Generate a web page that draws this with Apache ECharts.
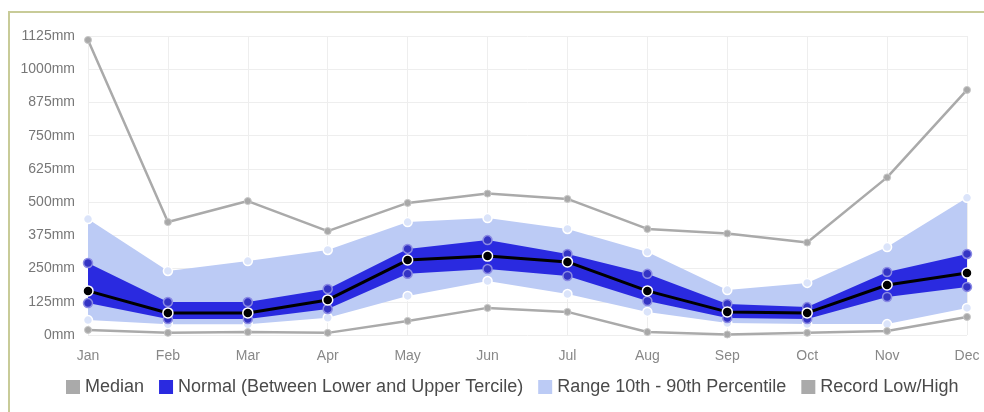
<!DOCTYPE html>
<html>
<head>
<meta charset="utf-8">
<script src="https://cdn.jsdelivr.net/npm/echarts@6/dist/echarts.min.js"></script>
<style>
html,body{margin:0;padding:0;background:#fff;}
#c{width:984px;height:412px;}
</style>
</head>
<body>
<div id="c"></div>
<script>
var months = ['Jan','Feb','Mar','Apr','May','Jun','Jul','Aug','Sep','Oct','Nov','Dec'];
var recordHigh = [1110, 425, 504, 391, 497, 532, 512, 399, 382, 348, 593, 922];
var recordLow  = [19, 8, 11, 8, 53, 102, 87, 11, 2, 8, 15, 68];
var p90        = [436, 241, 278, 320, 425, 440, 399, 312, 169, 196, 331, 516];
var p10        = [56, 40, 40, 65, 147, 203, 154, 87, 45, 41, 41, 102];
var upperTercile = [271, 124, 124, 173, 324, 357, 305, 230, 117, 105, 237, 305];
var lowerTercile = [120, 60, 60, 98, 230, 248, 222, 128, 64, 60, 143, 181];
var median     = [166, 83, 83, 132, 282, 297, 275, 166, 87, 83, 188, 233];
var yTicks = {min: 0, max: 1125, interval: 125};

var rangeDiff = p90.map(function(v, i){ return v - p10[i]; });
var normalDiff = upperTercile.map(function(v, i){ return v - lowerTercile[i]; });

var lightPt = {color:'#dbe4fa', borderColor:'#ffffff', borderWidth:1.5};
var darkPt = {color:'#3434c4', borderColor:'#8a8ae4', borderWidth:1.5};

var chart = echarts.init(document.getElementById('c'));
chart.setOption({
  animation: false,
  backgroundColor: '#fff',
  graphic: [{
    type: 'polyline',
    shape: {points: [[9, 412], [9, 12], [984, 12]]},
    style: {stroke: '#c8cb98', lineWidth: 2, fill: null},
    silent: true
  }],
  grid: {left: 88, right: 17, top: 36, bottom: 77},
  legend: {
    bottom: 16,
    left: 66,
    padding: 0,
    itemWidth: 14,
    itemHeight: 14,
    itemGap: 15,
    icon: 'rect',
    itemStyle: {borderWidth: 0},
    textStyle: {fontFamily: 'Liberation Sans, Arial, sans-serif', fontSize: 18, color: '#4a4a4a'},
    data: [
      {name: 'Median', itemStyle: {color: '#aaaaaa'}},
      {name: 'Normal (Between Lower and Upper Tercile)', itemStyle: {color: '#2a2ae0'}},
      {name: 'Range 10th - 90th Percentile', itemStyle: {color: '#bccbf5'}},
      {name: 'Record Low/High', itemStyle: {color: '#aaaaaa'}}
    ]
  },
  xAxis: {
    type: 'category',
    data: months,
    boundaryGap: false,
    axisLine: {show: false},
    axisTick: {show: false},
    axisLabel: {color: '#888', fontSize: 14, fontFamily: 'Liberation Sans, Arial, sans-serif', margin: 14},
    splitLine: {show: true, lineStyle: {color: '#eeeeee', width: 1}}
  },
  yAxis: {
    type: 'value',
    min: yTicks.min,
    max: yTicks.max,
    interval: yTicks.interval,
    axisLine: {show: false},
    axisTick: {show: false},
    axisLabel: {color: '#777', fontSize: 14, fontFamily: 'Liberation Sans, Arial, sans-serif',
      formatter: function(v){ return String(v) + 'mm'; }, margin: 13},
    splitLine: {lineStyle: {color: '#eeeeee', width: 1}}
  },
  series: [
    {
      name: 'p10', type: 'line', stack: 'range', data: p10,
      lineStyle: {width: 0}, areaStyle: {opacity: 0},
      symbol: 'circle', symbolSize: 9, itemStyle: lightPt, z: 1
    },
    {
      name: 'Range 10th - 90th Percentile', type: 'line', stack: 'range', data: rangeDiff,
      lineStyle: {width: 0}, areaStyle: {color: '#bccbf5', opacity: 1},
      symbol: 'circle', symbolSize: 9, itemStyle: lightPt, z: 1
    },
    {
      name: 'lowerTercile', type: 'line', stack: 'normal', data: lowerTercile,
      lineStyle: {width: 0}, areaStyle: {opacity: 0},
      symbol: 'circle', symbolSize: 9, itemStyle: darkPt, z: 2
    },
    {
      name: 'Normal (Between Lower and Upper Tercile)', type: 'line', stack: 'normal', data: normalDiff,
      lineStyle: {width: 0}, areaStyle: {color: '#2a2ae0', opacity: 1},
      symbol: 'circle', symbolSize: 9, itemStyle: darkPt, z: 2
    },
    {
      name: 'Record Low/High', type: 'line', data: recordHigh,
      lineStyle: {color: '#aaaaaa', width: 2.5},
      symbol: 'circle', symbolSize: 7, itemStyle: {color: '#a8a8a8', borderColor: '#c8c8c8', borderWidth: 1}, z: 3
    },
    {
      name: 'Record Low/High', type: 'line', data: recordLow,
      lineStyle: {color: '#aaaaaa', width: 2.5},
      symbol: 'circle', symbolSize: 7, itemStyle: {color: '#a8a8a8', borderColor: '#c8c8c8', borderWidth: 1}, z: 3
    },
    {
      name: 'Median', type: 'line', data: median,
      lineStyle: {color: '#000000', width: 3},
      symbol: 'circle', symbolSize: 10, itemStyle: {color: '#000000', borderColor: '#ffffff', borderWidth: 1.5}, z: 4
    }
  ]
});
</script>
</body>
</html>
